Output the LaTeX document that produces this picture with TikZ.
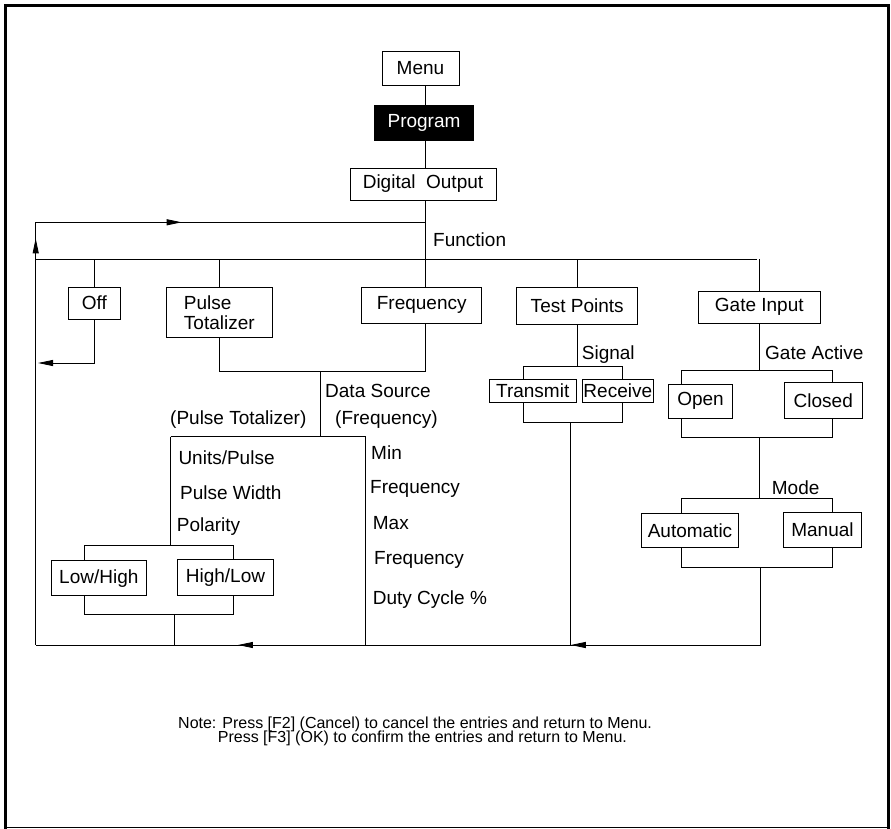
\documentclass[tikz,border=0pt]{standalone}
\usepackage{fontspec}
\setmainfont{Liberation Sans}
\usetikzlibrary{arrows.meta,positioning,decorations.markings}
\tikzset{
  menubox/.style={draw=black,line width=0.9pt,inner sep=0pt,align=center,
                  font=\fontsize{19}{20}\selectfont},
  darkbox/.style={fill=black,text=white,inner sep=0pt,
                  font=\fontsize{19}{20}\selectfont},
  itemtext/.style={anchor=base west,inner sep=0pt,font=\fontsize{19}{20}\selectfont},
  notetext/.style={anchor=base west,inner sep=0pt,font=\fontsize{16}{17}\selectfont},
  wire/.style={line width=0.9pt},
  flowtip/.tip={Triangle[length=15pt,width=6pt]},
  midarr/.style={postaction={decorate},decoration={markings,
      mark=at position #1 with {\arrow{flowtip}}}}
}

\begin{document}
\begin{tikzpicture}[x=1pt,y=-1pt]
  \useasboundingbox (0,0) rectangle (891,829);
  % frame
  \draw[line width=3.3pt] (5.5,829) -- (5.5,5.5) -- (888.5,5.5) -- (888.5,829);
  \draw[line width=1pt] (4,827.8) -- (890,827.8);

  % boxes
  \node[menubox,minimum width=77pt,minimum height=34pt] (menu) at (420.5,68) {Menu};
  \node[darkbox,minimum width=100pt,minimum height=36pt] (prog) at (424,123) {Program};
  \node[menubox,minimum width=146pt,minimum height=32pt] (dout) at (423,184) {Digital\ \ Output};
  \node[menubox,minimum width=52pt,minimum height=32pt] (off) at (94.3,303) {Off};
  \node[menubox,minimum width=106pt,minimum height=50pt,align=left] (ptot) at (219.3,312.3) {Pulse\\Totalizer};
  \node[menubox,minimum width=120pt,minimum height=36pt] (freq) at (421.7,305) {Frequency};
  \node[menubox,minimum width=121pt,minimum height=37pt] (tpts) at (577.2,306.2) {Test Points};
  \node[menubox,minimum width=122pt,minimum height=32pt] (gate) at (759.3,307.2) {Gate Input};
  \node[menubox,minimum width=87pt,minimum height=23.5pt] (xmit) at (532.7,391) {Transmit};
  \node[menubox,minimum width=71pt,minimum height=23.5pt] (recv) at (617.8,391) {Receive};
  \node[menubox,minimum width=64.5pt,minimum height=34pt] (open) at (700.5,401.3) {Open};
  \node[menubox,minimum width=78pt,minimum height=35.5pt] (closed) at (823.3,400.5) {Closed};
  \node[menubox,minimum width=95.7pt,minimum height=35pt] (lohi) at (98.8,578.2) {Low/High};
  \node[menubox,minimum width=96.4pt,minimum height=36.4pt] (hilo) at (225.5,577.5) {High/Low};
  \node[menubox,minimum width=96.6pt,minimum height=34.4pt] (auto) at (690,530.5) {Automatic};
  \node[menubox,minimum width=78.4pt,minimum height=35pt] (manual) at (822.5,530.2) {Manual};

  % labels
  \node[itemtext] (funlbl) at (433,246.6) {Function};
  \node[itemtext] (dslbl) at (325,397.3) {Data Source};
  \node[itemtext] (ptlbl) at (170,424.9) {(Pulse Totalizer)};
  \node[itemtext] (frlbl) at (335,424.9) {(Frequency)};
  \node[itemtext] (upulse) at (178.3,464.9) {Units/Pulse};
  \node[itemtext] (pwidth) at (180,499.3) {Pulse Width};
  \node[itemtext] (polar) at (176.7,531.6) {Polarity};
  \node[itemtext] (minf) at (371,459.9) {Min};
  \node[itemtext] (minf2) at (370,493.9) {Frequency};
  \node[itemtext] (maxf) at (372.7,529.3) {Max};
  \node[itemtext] (maxf2) at (374,564.9) {Frequency};
  \node[itemtext] (duty) at (372.7,604.9) {Duty Cycle \%};
  \node[itemtext] (siglbl) at (581.7,359.9) {Signal};
  \node[itemtext] (galbl) at (765,359.9) {Gate Active};
  \node[itemtext] (modelbl) at (771.7,494.9) {Mode};
  \node[notetext] (note1) at (178,728) {Note: Press [F2] (Cancel) to cancel the entries and return to Menu.};
  \node[notetext] (note2) at (217.7,742.5) {Press [F3] (OK) to confirm the entries and return to Menu.};

  % points of the wiring
  \coordinate (trunk) at (425,0);
  \coordinate (topL) at (35.7,222.3);
  \coordinate (topR) at (425,222.3);
  \coordinate (funL) at (35.7,259.3);
  \coordinate (funR) at (757.3,259.3);
  \coordinate (botL) at (35.7,645);
  \coordinate (offret) at (38,363);
  \coordinate (dsjoin) at (320.7,371.3);
  \coordinate (dsfork) at (320.7,436.7);
  \coordinate (ptcol) at (170.7,436.7);
  \coordinate (frcol) at (365.7,436.7);
  \coordinate (polL) at (84,545.3);
  \coordinate (polR) at (233.3,545.3);
  \coordinate (polmid) at (170.7,545.3);
  \coordinate (polBL) at (84,614.3);
  \coordinate (polBR) at (233.3,614.3);
  \coordinate (polout) at (174.3,614.3);
  \coordinate (sigL) at (523.3,366);
  \coordinate (sigR) at (622.3,366);
  \coordinate (sigBL) at (523.3,422.3);
  \coordinate (sigBR) at (622.3,422.3);
  \coordinate (sigout) at (570,422.3);
  \coordinate (gaL) at (681,370);
  \coordinate (gaR) at (832.5,370);
  \coordinate (gaBL) at (681,437.3);
  \coordinate (gaBR) at (832.5,437.3);
  \coordinate (gaout) at (759.3,437.3);
  \coordinate (moL) at (681,498.3);
  \coordinate (moR) at (832.5,498.3);
  \coordinate (moBL) at (681,567.3);
  \coordinate (moBR) at (832.5,567.3);
  \coordinate (moout) at (760.7,567.3);
  \coordinate (botR) at (moout |- botL);

  % main trunk
  \draw[wire] (menu.south -| trunk) -- (prog.north -| trunk);
  \draw[wire] (prog.south -| trunk) -- (dout.north -| trunk);
  \draw[wire] (dout.south -| trunk) -- (freq.north -| trunk);
  \draw[wire,midarr=0.375] (topL) -- (topR);
  \draw[wire] (funL) -- (funR);
  \draw[wire,midarr=0.962] (botL) -- (topL);
  \draw[wire,postaction={decorate},decoration={markings,
      mark=at position 0.262 with {\arrow{flowtip}},
      mark=at position 0.721 with {\arrow{flowtip}}}] (botR) -- (botL);

  % Off
  \draw[wire] (off.north) -- (off.north |- funL);
  \draw[wire,-flowtip] (off.south) |- (offret);

  % Pulse Totalizer / Frequency
  \draw[wire] (ptot.north) -- (ptot.north |- funL);
  \draw[wire] (ptot.south) |- (dsjoin);
  \draw[wire] (freq.south -| trunk) |- (dsjoin);
  \draw[wire] (dsjoin) -- (dsfork);
  \draw[wire] (ptcol) -- (frcol);
  \draw[wire] (ptcol) -- (polmid);
  \draw[wire] (frcol) -- (frcol |- botL);
  \draw[wire] (polL |- lohi.north) -- (polL) -- (polR) -- (polR |- hilo.north);
  \draw[wire] (polL |- lohi.south) -- (polBL) -- (polBR) -- (polR |- hilo.south);
  \draw[wire] (polout) -- (polout |- botL);

  % Test Points
  \draw[wire] (tpts.north) -- (tpts.north |- funL);
  \draw[wire] (tpts.south) -- (tpts.south |- sigL);
  \draw[wire] (sigL |- xmit.north) -- (sigL) -- (sigR) -- (sigR |- recv.north);
  \draw[wire] (sigL |- xmit.south) -- (sigBL) -- (sigBR) -- (sigR |- recv.south);
  \draw[wire] (sigout) -- (sigout |- botL);

  % Gate Input
  \draw[wire] (gate.north) -- (gate.north |- funR);
  \draw[wire] (gate.south) -- (gate.south |- gaL);
  \draw[wire] (gaL |- open.north) -- (gaL) -- (gaR) -- (gaR |- closed.north);
  \draw[wire] (gaL |- open.south) -- (gaBL) -- (gaBR) -- (gaR |- closed.south);
  \draw[wire] (gaout) -- (gaout |- moL);
  \draw[wire] (moL |- auto.north) -- (moL) -- (moR) -- (moR |- manual.north);
  \draw[wire] (moL |- auto.south) -- (moBL) -- (moBR) -- (moR |- manual.south);
  \draw[wire] (moout) -- (botR);
\end{tikzpicture}
\end{document}
